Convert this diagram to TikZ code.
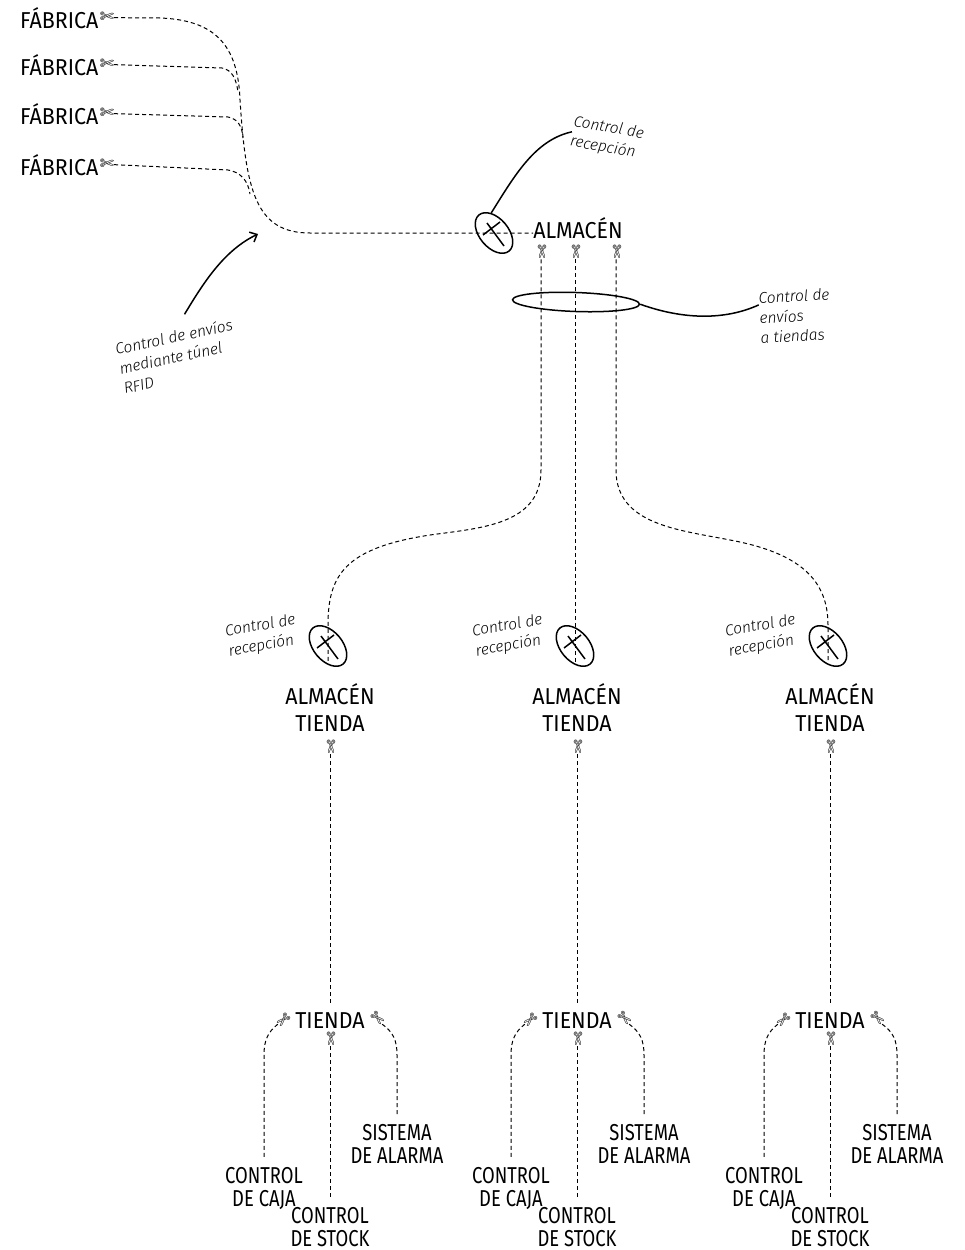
\documentclass[tikz,border=0pt]{standalone}
\usepackage{fontspec}
\setmainfont{Fira Sans}[FakeStretch=0.93]
\newfontfamily\estrecha{Fira Sans}[FakeStretch=0.8]
\newfontfamily\mano{Fira Sans Light}[ItalicFont={Fira Sans Light Italic}]
\newfontfamily\simbolos{DejaVu Sans}
\usetikzlibrary{positioning,shapes.geometric,arrows.meta}
\newcommand{\cruz}[1]{\draw[trazo] (#1) +(-7,-10) -- +(10,13) (#1) +(-11,2) -- +(6,-11);}

\begin{document}
\begin{tikzpicture}[x=1pt,y=-1pt]
\tikzset{etiqueta/.style={font=\fontsize{23}{23}\selectfont,align=center,inner sep=0pt},
         control/.style={etiqueta,font=\estrecha\fontsize{23}{23}\selectfont,anchor=north},
         nota/.style={font=\mano\itshape\fontsize{15.5}{20}\selectfont,align=left,inner sep=0pt},
         tijera/.style={font=\simbolos\fontsize{17}{17}\selectfont,inner sep=0pt,rotate=#1},
         tijera/.default=0,
         enlace/.style={draw,dash pattern=on 4pt off 3pt,line width=1pt},
         lector/.style={draw,ellipse,line width=1.5pt,minimum width=47pt,minimum height=29pt,inner sep=0pt,rotate=-50},
         trazo/.style={draw,line width=1.5pt}}
\useasboundingbox (0,0) rectangle (964,1250);
\foreach \y/\i in {28/1,75/2,124/3,175/4}
  \node[etiqueta,anchor=base west] (fab\i) at (20,\y) {FÁBRICA};
\foreach \i in {1,...,4}
  \node[tijera,right=1pt of fab\i] (tf\i) {✄};
\node[lector] (ctrl) at (494,233) {};
\cruz{ctrl}
\node[etiqueta,anchor=base] (alm) at (578,238) {ALMACÉN};
\draw[enlace] (tf1.east) -- (160,18) .. controls (215,20) and (238,45) .. (240,100) .. controls (246,190) and (255,233) .. (310,233) -- (alm.west |- ctrl);
\draw[enlace] (tf2.east) -- (222,68) .. controls (232,70) and (236,78) .. (238,92);
\draw[enlace] (tf3.east) -- (228,117) .. controls (238,119) and (242,126) .. (243,138);
\draw[enlace] (tf4.east) -- (228,170) .. controls (240,172) and (248,180) .. (250,194);
\node[nota,rotate=-10] (nrec) at (607,138) {Control de\\recepción};
\draw[trazo] (ctrl.north west) .. controls (515,175) and (535,140) .. (nrec.west);
\node[nota,rotate=12] (nrfid) at (178,356) {Control de envíos\\mediante túnel\\RFID};
\coordinate (tunel) at (258,234);
\draw[trazo,-{Straight Barb[length=6pt,width=11pt]}] ([shift={(12,-16)}]nrfid.north) .. controls (205,280) and (225,250) .. (tunel);
\foreach \x/\i in {541/1,575/2,616/3}
  \node[tijera=-90] (ts\i) at (\x,252) {✄};
\node[draw,ellipse,line width=1.5pt,minimum width=127pt,minimum height=19pt,inner sep=0pt,rotate=-2] (envio) at (576,302) {};
\node[nota,rotate=3] (nenv) at (795,316) {Control de\\envíos\\a tiendas};
\draw[trazo] (envio.east) .. controls (690,322) and (730,318) .. (nenv.160);
\foreach \x/\i in {330/1,577/2,830/3}{
  \node[lector] (rec\i) at (\x-2,646) {};
  \cruz{rec\i}
  \node[nota,rotate=10] (nr\i) at (\x-68,636) {Control de\\recepción};
  \node[etiqueta,font=\fontsize{23}{27}\selectfont,anchor=south] (alt\i) at (\x,732) {ALMACÉN\\TIENDA};
  \node[tijera=-90] (ta\i) at (\x,747) {✄};
  \node[etiqueta,anchor=base] (tie\i) at (\x,1028) {TIENDA};
  \node[tijera=-135] (tl\i) at (\x-47,1019) {✄};
  \node[tijera=-45] (tr\i) at (\x+47,1019) {✄};
  \node[tijera=-90] (tm\i) at (\x,1039) {✄};
  \node[control] (caja\i) at (\x-66,1167) {CONTROL\\DE CAJA};
  \node[control] (alarma\i) at (\x+67,1124) {SISTEMA\\DE ALARMA};
  \node[control] (stock\i) at (\x,1207) {CONTROL\\DE STOCK};
  \draw[enlace,shorten >=7pt] (ta\i.east) -- (tie\i.north);
  \draw[enlace,shorten >=10pt] (tl\i.east) .. controls (\x-62,1032) and (\x-66,1040) .. (\x-66,1055) -- (caja\i.north);
  \draw[enlace,shorten >=7pt] (tr\i.east) .. controls (\x+63,1032) and (\x+67,1040) .. (\x+67,1055) -- (alarma\i.north);
  \draw[enlace,shorten >=8pt] (tm\i.east) -- (stock\i.north);
}
\draw[enlace,shorten >=22pt] (ts1.east) -- (541,470) .. controls (541,525) and (480,528) .. (430,535) .. controls (345,548) and (328,575) .. (rec1.center |- 0,625) -- (rec1.center |- alt1.north);
\draw[enlace,shorten >=22pt] (ts2.east) -- (rec2.center |- alt2.north);
\draw[enlace,shorten >=22pt] (ts3.east) -- (616,470) .. controls (616,525) and (680,530) .. (730,540) .. controls (800,553) and (828,580) .. (rec3.center |- 0,625) -- (rec3.center |- alt3.north);
\end{tikzpicture}
\end{document}
